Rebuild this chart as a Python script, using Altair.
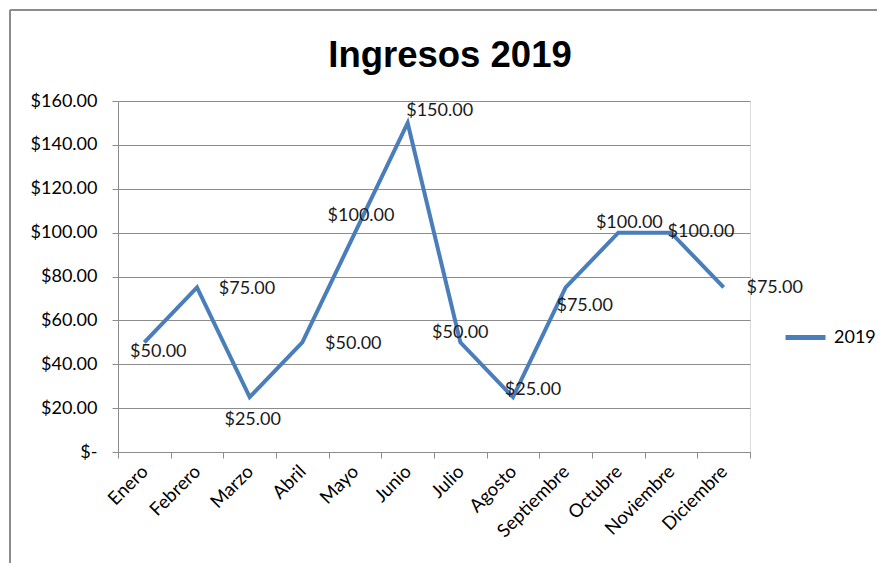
import altair as alt
import pandas as pd

months = ["Enero", "Febrero", "Marzo", "Abril", "Mayo", "Junio", "Julio",
          "Agosto", "Septiembre", "Octubre", "Noviembre", "Diciembre"]
values = [50, 75, 25, 50, 100, 150, 50, 25, 75, 100, 100, 75]
series_name = "2019"
title_text = "Ingresos 2019"
y_ticks = [0, 20, 40, 60, 80, 100, 120, 140, 160]

df = pd.DataFrame({"Mes": months, "Ingresos": values, "Serie": [series_name] * len(months)})

# label placement (style): dx, dy per month
label_offsets = {
    "Enero": (14, 10), "Febrero": (50, 2), "Marzo": (3, 23), "Abril": (51, 2),
    "Mayo": (6, -17), "Junio": (32, -12), "Julio": (0, -9), "Agosto": (20, -7),
    "Septiembre": (19, 19), "Octubre": (11, -10), "Noviembre": (30, -1),
    "Diciembre": (51, 1),
}

FONT = "Lato"
GRAY = "#8c8c8c"
BLUE = "#4A7EBB"

x_enc = alt.X(
    "Mes:N", sort=months,
    scale=alt.Scale(type="band", paddingInner=0, paddingOuter=0),
    axis=alt.Axis(title=None, labelAngle=-45, labelAlign="right", labelBaseline="middle",
                  tickBand="extent", grid=False, domainColor=GRAY, tickColor=GRAY,
                  tickSize=6, labelPadding=10, labelFont=FONT, labelFontSize=18.5,
                  labelColor="#000000"),
)
y_enc = alt.Y(
    "Ingresos:Q",
    scale=alt.Scale(domain=[0, 160], nice=False),
    axis=alt.Axis(title=None, values=y_ticks, grid=True, gridColor=GRAY, domainColor=GRAY,
                  tickColor=GRAY, tickSize=6, labelPadding=15, labelFont=FONT,
                  labelFontSize=18, labelColor="#000000",
                  labelExpr="datum.value == 0 ? '$-\u00a0\u00a0\u00a0' : '$' + format(datum.value, '.2f')"),
)

base = alt.Chart(df)

line = base.mark_line(strokeWidth=4, strokeJoin="miter").encode(
    x=x_enc, y=y_enc,
    color=alt.Color("Serie:N", scale=alt.Scale(range=[BLUE]),
                    legend=alt.Legend(title=None, orient="none", legendX=665, legendY=214,
                                      symbolType="stroke", symbolSize=1600,
                                      symbolStrokeWidth=5, labelFont=FONT, labelFontSize=18,
                                      labelColor="#000000", labelOffset=6, padding=0)),
)

texts = []
for m in months:
    dx, dy = label_offsets[m]
    t = base.transform_filter(alt.datum.Mes == m).mark_text(
        font=FONT, fontSize=18, color="#1a1a1a", dx=dx, dy=dy,
        align="center", baseline="middle",
    ).encode(x=alt.X("Mes:N", sort=months), y="Ingresos:Q",
             text=alt.Text("Ingresos:Q", format="$.2f"))
    texts.append(t)

title_mark = alt.Chart(pd.DataFrame({"t": [title_text]})).mark_text(
    font="Liberation Sans Narrow, Arial Narrow, Liberation Sans, sans-serif",
    fontSize=36.5, fontWeight="bold", color="#000000",
    align="center", baseline="alphabetic",
).encode(x=alt.value(332), y=alt.value(-34), text="t:N")

border_left = base.mark_rule(color=GRAY, strokeWidth=2).encode(
    x=alt.value(-108), y=alt.value(-91), y2=alt.value(500))
border_top = base.mark_rule(color=GRAY, strokeWidth=2).encode(
    x=alt.value(-108), x2=alt.value(800), y=alt.value(-91))

chart = alt.layer(line, *texts, title_mark, border_left, border_top).properties(
    width=632, height=351,
    autosize=alt.AutoSizeParams(type="none"),
    padding={"left": 110, "top": 93, "right": 127, "bottom": 111},
).configure_view(stroke=None).configure(background="white")

chart.save("out.html", embed_options={"renderer": "svg", "actions": False})
